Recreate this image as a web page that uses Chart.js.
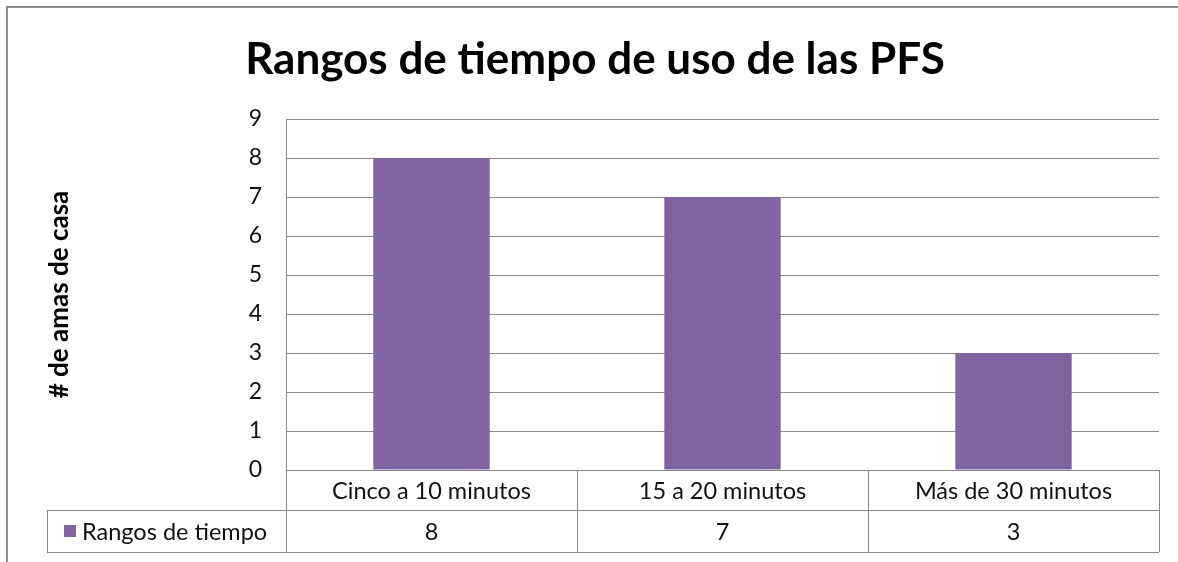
<!DOCTYPE html>
<html>
<head>
<meta charset="utf-8">
<script src="https://cdn.jsdelivr.net/npm/chart.js@4"></script>
<style>
body { margin: 0; background: #fff; }
#frame { position: absolute; left: 6px; top: 6px; width: 1172px; height: 556px; border-top: 2px solid #8c8c8c; border-left: 2px solid #8c8c8c; }
canvas { position: absolute; left: 0; top: 0; }
</style>
</head>
<body>
<div id="frame"></div>
<canvas id="chart"></canvas>
<script>
const categories = ['Cinco a 10 minutos', '15 a 20 minutos', 'Más de 30 minutos'];
const seriesName = 'Rangos de tiempo';
const values = [8, 7, 3];
const yTicks = [0, 1, 2, 3, 4, 5, 6, 7, 8, 9];

const FONT = 'Lato, Calibri, sans-serif';
const barColor = '#8064A2';
const lineColor = '#898989';

// dibuja la tabla de datos debajo del eje (como en Excel)
const dataTable = {
    id: 'dataTable',
    afterDraw(chart) {
        const { ctx, chartArea } = chart;
        const x = chart.scales.x;
        const band = (chartArea.right - chartArea.left) / categories.length;
        const row1 = chartArea.bottom + 40;
        const row2 = row1 + 42;
        const legendLeft = 47;

        ctx.save();
        ctx.strokeStyle = lineColor;
        ctx.lineWidth = 1;
        ctx.beginPath();
        ctx.moveTo(legendLeft, row1 + 0.5); ctx.lineTo(chartArea.right, row1 + 0.5);
        ctx.moveTo(legendLeft, row2 + 0.5); ctx.lineTo(chartArea.right, row2 + 0.5);
        ctx.moveTo(legendLeft + 0.5, row1); ctx.lineTo(legendLeft + 0.5, row2);
        for (let i = 0; i <= categories.length; i++) {
            const px = Math.round(chartArea.left + i * band) + 0.5;
            ctx.moveTo(px, chartArea.bottom); ctx.lineTo(px, row2);
        }
        ctx.stroke();

        ctx.fillStyle = '#111';
        ctx.font = '23.5px ' + FONT;
        ctx.textAlign = 'center';
        ctx.textBaseline = 'middle';
        categories.forEach((c, i) => {
            const cx = x.getPixelForValue(i);
            ctx.fillText(c, cx, (chartArea.bottom + row1) / 2 + 1);
            ctx.fillText(String(values[i]), cx, (row1 + row2) / 2 + 1);
        });

        ctx.fillStyle = barColor;
        ctx.fillRect(64, (row1 + row2) / 2 - 6, 12, 12);
        ctx.fillStyle = '#111';
        ctx.textAlign = 'left';
        ctx.fillText(seriesName, 82, (row1 + row2) / 2 + 1);
        ctx.restore();
    }
};

const canvas = document.getElementById('chart');
canvas.width = 1178;
canvas.height = 562;

new Chart(canvas.getContext('2d'), {
    type: 'bar',
    data: {
        labels: categories,
        datasets: [{
            label: seriesName,
            data: values,
            backgroundColor: barColor,
            borderWidth: 0,
            barPercentage: 0.4,
            categoryPercentage: 1
        }]
    },
    options: {
        responsive: false,
        animation: false,
        layout: { padding: { top: 119, right: 19, bottom: 92, left: 0 } },
        scales: {
            x: { display: false },
            y: {
                min: 0,
                max: 9,
                afterFit(scale) { scale.width = 286; },
                afterBuildTicks(scale) { scale.ticks = yTicks.map(v => ({ value: v })); },
                grid: { color: lineColor, drawTicks: false },
                border: { display: true, color: lineColor },
                ticks: { color: '#111', padding: 24, font: { family: FONT, size: 23 } },
                title: {
                    display: true,
                    text: '# de amas de casa',
                    color: '#000',
                    font: { family: FONT, size: 26, weight: 'bold' },
                    padding: { top: 44, bottom: 0 }
                }
            }
        },
        plugins: {
            legend: { display: false },
            tooltip: { enabled: false },
            title: { display: false }
        }
    },
    plugins: [dataTable, {
        id: 'bigTitle',
        afterDraw(chart) {
            const { ctx } = chart;
            ctx.save();
            ctx.fillStyle = '#000';
            ctx.font = 'bold 44px ' + FONT;
            ctx.textAlign = 'center';
            ctx.textBaseline = 'middle';
            ctx.fillText('Rangos de tiempo de uso de las PFS', 595, 60);
            ctx.restore();
        }
    }]
});
</script>
</body>
</html>
